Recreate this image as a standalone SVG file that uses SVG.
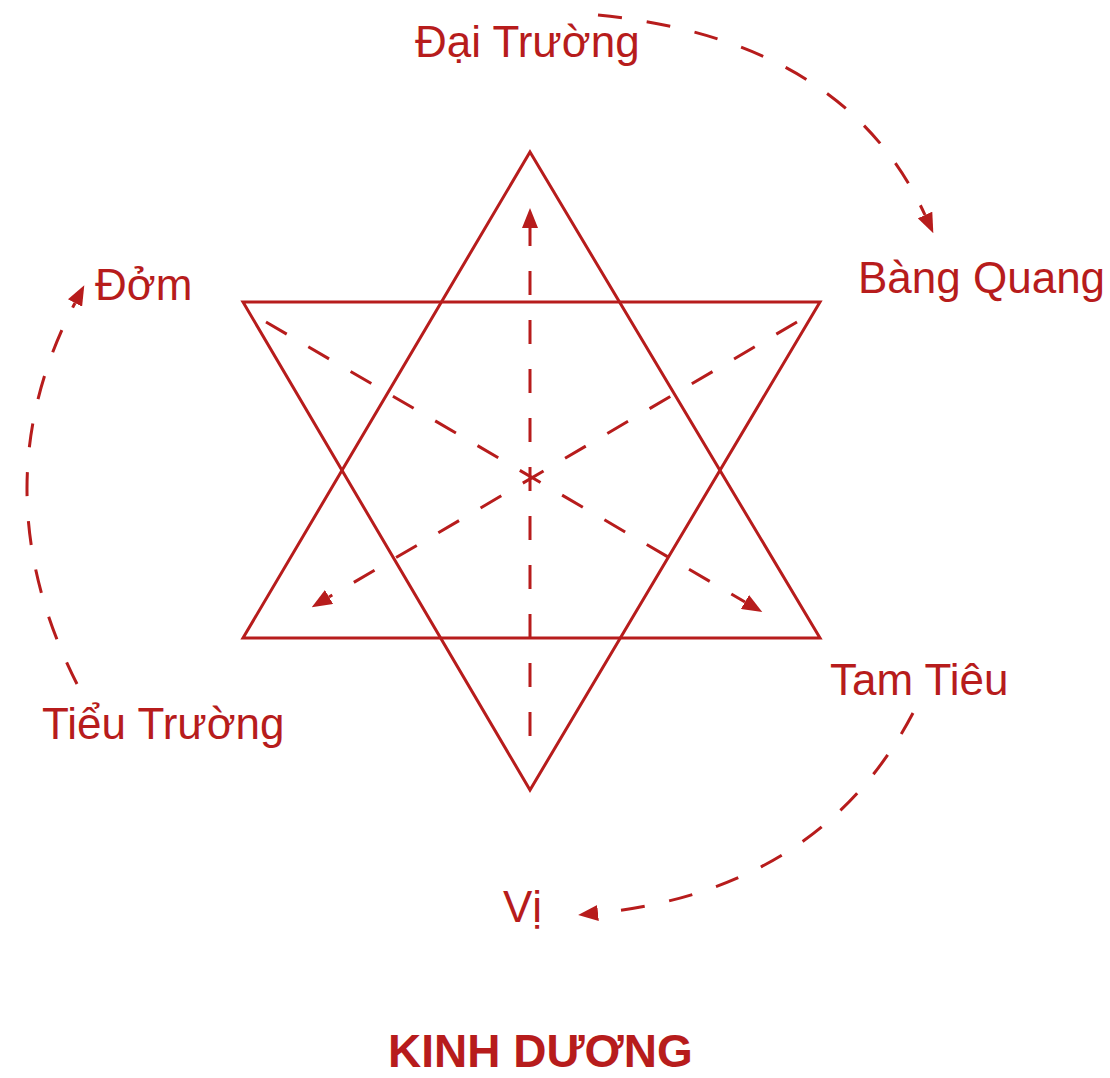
<svg xmlns="http://www.w3.org/2000/svg" width="1110" height="1078" viewBox="0 0 1110 1078">
<style>
.lbl{font-family:"Liberation Sans",Arial,sans-serif;font-size:44px;fill:#b71c1c}
.title{font-family:"Liberation Sans",Arial,sans-serif;font-size:46px;font-weight:bold;fill:#b71c1c}
.solid{fill:none;stroke:#b71c1c;stroke-width:3;stroke-linejoin:miter}
.dash{fill:none;stroke:#b71c1c;stroke-width:3;stroke-dasharray:24 25}
</style>
<defs>
<marker id="arr" viewBox="0 0 20 16" refX="0" refY="8" markerWidth="20" markerHeight="16" markerUnits="userSpaceOnUse" orient="auto">
<path d="M0,0 L20,8 L0,16 z" fill="#b71c1c"/>
</marker>
</defs>
<rect width="1110" height="1078" fill="#ffffff"/>
<g id="star">
<polygon id="tri-up" class="solid" points="530,152 820,638 243,638"/>
<polygon id="tri-down" class="solid" points="243,302 820,302 530,790"/>
</g>
<g id="connectors">
<path class="dash" d="M530,736 L530,228" marker-end="url(#arr)"/>
<path class="dash" d="M266,322 L745,602" marker-end="url(#arr)"/>
<path class="dash" d="M797,322 L329,597" marker-end="url(#arr)"/>
<path class="dash" d="M598,15 Q845,40 925,215" marker-end="url(#arr)"/>
<path class="dash" d="M77,684 Q-22,488 75,303" marker-end="url(#arr)"/>
<path class="dash" d="M913,713 Q820,890 598,913" marker-end="url(#arr)"/>
</g>
<g id="node-dai-truong"><text class="lbl" x="415" y="57">Đại Trường</text></g>
<g id="node-bang-quang"><text class="lbl" x="858" y="293">Bàng Quang</text></g>
<g id="node-dom"><text class="lbl" x="95" y="300">Đởm</text></g>
<g id="node-tieu-truong"><text class="lbl" x="42" y="739">Tiểu Trường</text></g>
<g id="node-tam-tieu"><text class="lbl" x="830" y="695">Tam Tiêu</text></g>
<g id="node-vi"><text class="lbl" x="503" y="922">Vị</text></g>
<g id="title"><text class="title" x="388" y="1067">KINH DƯƠNG</text></g>
</svg>
